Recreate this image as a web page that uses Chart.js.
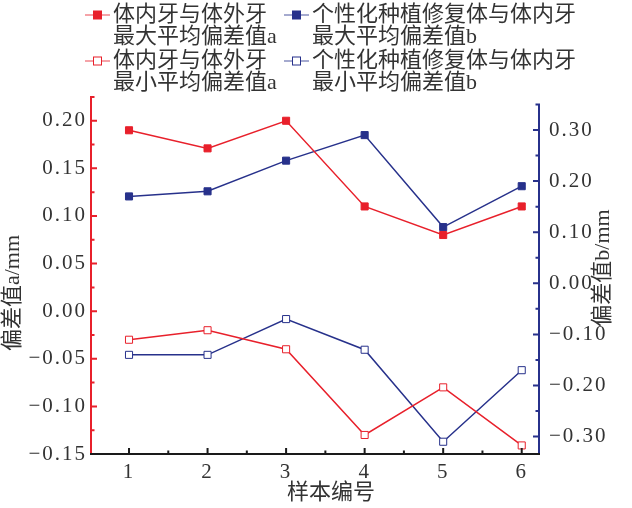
<!DOCTYPE html>
<html>
<head>
<meta charset="utf-8">
<script src="https://cdn.jsdelivr.net/npm/chart.js@4.4.1/dist/chart.umd.min.js"></script>
<style>
  html, body { margin: 0; padding: 0; background: #fff; }
  #wrap { width: 632px; height: 508px; position: relative; }
</style>
</head>
<body>
<div id="wrap"><canvas id="deviationChart"></canvas></div>
<script>
// sample numbers on the x axis
const samples = [1, 2, 3, 4, 5, 6];

// left axis (a) series
const maxA = [0.19, 0.171, 0.20, 0.11, 0.08, 0.11];
const minA = [-0.03, -0.02, -0.04, -0.13, -0.08, -0.141];

// right axis (b) series
const maxB = [0.17, 0.18, 0.24, 0.29, 0.11, 0.19];
const minB = [-0.14, -0.14, -0.07, -0.13, -0.31, -0.17];

// tick values
const leftTicks = [-0.15, -0.10, -0.05, 0.00, 0.05, 0.10, 0.15, 0.20];
const leftMinor = [-0.125, -0.075, -0.025, 0.025, 0.075, 0.125, 0.175, 0.225];
const rightTicks = [-0.30, -0.20, -0.10, 0.00, 0.10, 0.20, 0.30];
const rightMinor = [-0.25, -0.15, -0.05, 0.05, 0.15, 0.25, 0.35];
const xMinor = [1.5, 2.5, 3.5, 4.5, 5.5];

const legendLabels = [
    ['体内牙与体外牙', '最大平均偏差值a'],
    ['个性化种植修复体与体内牙', '最大平均偏差值b'],
    ['体内牙与体外牙', '最小平均偏差值a'],
    ['个性化种植修复体与体内牙', '最小平均偏差值b']
];

const RED = '#e8202b';
const BLUE = '#27318b';
const TEXT = '#333333';
const numFont = { family: '"Liberation Serif", "Times New Roman", serif', size: 21 };
const cjkFont = '22px "Liberation Serif", "Noto Sans CJK SC", sans-serif';

function pairs(values) {
    return samples.map((s, i) => ({ x: s, y: values[i] }));
}

function fmt(v) {
    const s = Math.abs(v).toFixed(2);
    return v < -1e-9 ? '\u2212' + s : s;
}

// axis lines, inward tick marks, titles and the legend
const decorPlugin = {
    id: 'decor',
    beforeDraw(chart) {
        // the tick numbers are printed with wide tracking
        chart.ctx.letterSpacing = '2px';
    },
    afterDraw(chart) {
        const ctx = chart.ctx;
        ctx.letterSpacing = '0px';
        const area = chart.chartArea;
        const x = chart.scales.x, yA = chart.scales.yA, yB = chart.scales.yB;
        ctx.save();
        ctx.lineWidth = 2;

        // left axis
        ctx.strokeStyle = RED;
        ctx.beginPath();
        ctx.moveTo(area.left, area.top);
        ctx.lineTo(area.left, area.bottom);
        leftTicks.forEach(v => { const p = yA.getPixelForValue(v); ctx.moveTo(area.left, p); ctx.lineTo(area.left + 6, p); });
        leftMinor.forEach(v => { const p = yA.getPixelForValue(v); ctx.moveTo(area.left, p); ctx.lineTo(area.left + 3.5, p); });
        ctx.stroke();

        // right axis
        ctx.strokeStyle = BLUE;
        ctx.beginPath();
        ctx.moveTo(area.right, yB.getPixelForValue(0.35) - 1);
        ctx.lineTo(area.right, area.bottom);
        rightTicks.forEach(v => { const p = yB.getPixelForValue(v); ctx.moveTo(area.right, p); ctx.lineTo(area.right - 6, p); });
        rightMinor.forEach(v => { const p = yB.getPixelForValue(v); ctx.moveTo(area.right, p); ctx.lineTo(area.right - 3.5, p); });
        ctx.stroke();

        // bottom axis
        ctx.strokeStyle = '#1a1a1a';
        ctx.beginPath();
        ctx.moveTo(area.left - 1, area.bottom);
        ctx.lineTo(area.right + 1, area.bottom);
        samples.forEach(v => { const p = x.getPixelForValue(v); ctx.moveTo(p, area.bottom); ctx.lineTo(p, area.bottom - 6); });
        xMinor.forEach(v => { const p = x.getPixelForValue(v); ctx.moveTo(p, area.bottom); ctx.lineTo(p, area.bottom - 3.5); });
        ctx.stroke();

        // axis titles
        ctx.fillStyle = TEXT;
        ctx.font = cjkFont;
        ctx.textAlign = 'center';
        ctx.textBaseline = 'middle';
        ctx.fillText('样本编号', 331, 493);
        ctx.save();
        ctx.translate(13, 293);
        ctx.rotate(-Math.PI / 2);
        ctx.fillText('偏差值a/mm', 0, 0);
        ctx.restore();
        ctx.save();
        ctx.translate(603, 268);
        ctx.rotate(-Math.PI / 2);
        ctx.fillText('偏差值b/mm', 0, 0);
        ctx.restore();

        // legend, two columns by two rows
        const cols = [85, 284];
        const rows = [15, 61];
        chart.data.datasets.forEach((ds, i) => {
            const lx = cols[i % 2];
            const ly = rows[Math.floor(i / 2)];
            ctx.globalAlpha = 0.55;
            ctx.strokeStyle = ds.borderColor;
            ctx.lineWidth = 1.5;
            ctx.beginPath();
            ctx.moveTo(lx, ly);
            ctx.lineTo(lx + 25, ly);
            ctx.stroke();
            ctx.globalAlpha = 1;
            ctx.fillStyle = ds.pointBackgroundColor;
            ctx.fillRect(lx + 8.5, ly - 4, 8, 8);
            ctx.lineWidth = 1;
            ctx.strokeStyle = ds.borderColor;
            ctx.strokeRect(lx + 8.5, ly - 4, 8, 8);
            ctx.fillStyle = TEXT;
            ctx.textAlign = 'left';
            ctx.textBaseline = 'middle';
            ctx.font = cjkFont;
            legendLabels[i].forEach((t, k) => ctx.fillText(t, lx + 28, ly + k * 22));
        });
        ctx.restore();
    }
};

const ctx = document.getElementById('deviationChart').getContext('2d');
new Chart(ctx, {
    type: 'line',
    data: {
        datasets: [
            {
                label: '体内牙与体外牙最大平均偏差值a',
                data: pairs(maxA),
                yAxisID: 'yA',
                borderColor: RED,
                pointBackgroundColor: RED,
                borderWidth: 1.5,
                pointBorderWidth: 1,
                pointStyle: 'rect',
                pointRadius: 5,
                tension: 0
            },
            {
                label: '个性化种植修复体与体内牙最大平均偏差值b',
                data: pairs(maxB),
                yAxisID: 'yB',
                borderColor: BLUE,
                pointBackgroundColor: BLUE,
                borderWidth: 1.5,
                pointBorderWidth: 1,
                pointStyle: 'rect',
                pointRadius: 5,
                tension: 0
            },
            {
                label: '体内牙与体外牙最小平均偏差值a',
                data: pairs(minA),
                yAxisID: 'yA',
                borderColor: RED,
                pointBackgroundColor: '#ffffff',
                borderWidth: 1.5,
                pointBorderWidth: 1,
                pointStyle: 'rect',
                pointRadius: 5,
                tension: 0
            },
            {
                label: '个性化种植修复体与体内牙最小平均偏差值b',
                data: pairs(minB),
                yAxisID: 'yB',
                borderColor: BLUE,
                pointBackgroundColor: '#ffffff',
                borderWidth: 1.5,
                pointBorderWidth: 1,
                pointStyle: 'rect',
                pointRadius: 5,
                tension: 0
            }
        ]
    },
    options: {
        responsive: true,
        maintainAspectRatio: false,
        animation: false,
        layout: { padding: { top: 96, left: 0, right: 0, bottom: 0 } },
        scales: {
            x: {
                type: 'linear',
                min: 0.516,
                max: 6.22,
                grid: { display: false, drawTicks: false },
                border: { display: false },
                afterBuildTicks: s => { s.ticks = samples.map(v => ({ value: v })); },
                afterFit: s => { s.height = 54; },
                ticks: { color: TEXT, font: numFont, padding: 6, maxRotation: 0, callback: v => String(v) }
            },
            yA: {
                type: 'linear',
                position: 'left',
                min: -0.15,
                max: 0.226,
                grid: { display: false, drawTicks: false },
                border: { display: false },
                afterBuildTicks: s => { s.ticks = leftTicks.map(v => ({ value: v })); },
                afterFit: s => { s.width = 91; },
                ticks: { color: TEXT, font: numFont, padding: 4, callback: v => fmt(v) }
            },
            yB: {
                type: 'linear',
                position: 'right',
                min: -0.334,
                max: 0.3665,
                grid: { display: false, drawTicks: false },
                border: { display: false },
                afterBuildTicks: s => { s.ticks = rightTicks.map(v => ({ value: v })); },
                afterFit: s => { s.width = 93; },
                ticks: { color: TEXT, font: numFont, padding: 10, callback: v => fmt(v) }
            }
        },
        plugins: {
            legend: { display: false },
            tooltip: { enabled: false }
        }
    },
    plugins: [decorPlugin]
});
</script>
</body>
</html>
